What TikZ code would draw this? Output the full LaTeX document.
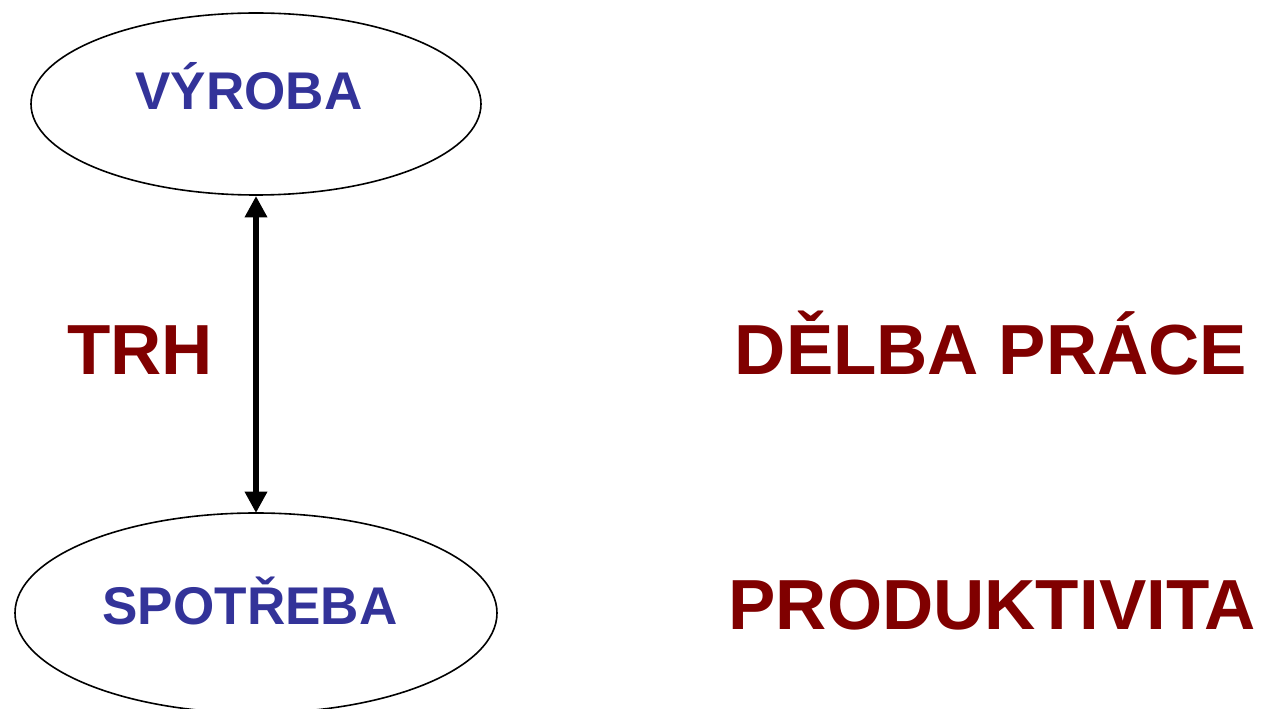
\documentclass[tikz,border=0pt]{standalone}
\usepackage{fontspec}
\setmainfont{Liberation Sans}
\usetikzlibrary{arrows.meta}
\definecolor{myblue}{HTML}{333399}
\definecolor{myred}{HTML}{800000}
\begin{document}
\begin{tikzpicture}[x=0.75pt,y=-0.75pt,
  oval/.style={draw=black,line width=1.2pt},
  bluetext/.style={text=myblue,font=\fontsize{39.8pt}{41pt}\selectfont\bfseries,anchor=base,inner sep=0pt},
  redtext/.style={text=myred,font=\fontsize{53.2pt}{55pt}\selectfont\bfseries,anchor=base,inner sep=0pt},
  link/.style={line width=5pt,{Triangle[length=16pt,width=16pt]}-{Triangle[length=16pt,width=16pt]},shorten <=0pt,shorten >=0pt}]
\useasboundingbox (0,0) rectangle (1265,709);
\begin{scope}
\clip (0,0) rectangle (1265,709);
\draw[oval] (256,104) ellipse [x radius=225, y radius=91];
\draw[oval] (256,613) ellipse [x radius=241, y radius=100];
\end{scope}
\coordinate (top) at (256,196);
\coordinate (bot) at (256,513);
\draw[link] (top) -- (bot);
\node[bluetext] (vyroba) at (249,110) {VÝROBA};
\node[bluetext] (spotreba) at (250,624) {SPOTŘEBA};
\node[redtext] (trh) at (140,375) {TRH};
\node[redtext] (delba) at (991,375) {DĚLBA PRÁCE};
\node[redtext] (prod) at (992,629) {PRODUKTIVITA};
\end{tikzpicture}
\end{document}
